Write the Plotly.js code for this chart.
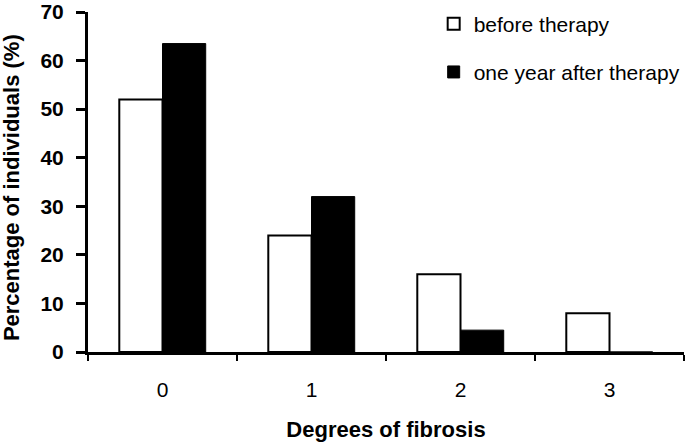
<!DOCTYPE html>
<html>
<head>
<meta charset="utf-8">
<script src="https://cdn.plot.ly/plotly-3.0.1.min.js"></script>
<style>
  body { margin: 0; background: #fff; }
  #plotDiv { width: 700px; height: 443px; }
</style>
</head>
<body>
<div id="plotDiv"></div>
<script>
var degrees = ['0', '1', '2', '3'];
var beforeTherapy = [52, 24, 16, 8];
var afterTherapy = [63.5, 32, 4.5, 0];

var before = {
  type: 'bar',
  name: 'before therapy',
  x: degrees,
  y: beforeTherapy,
  legendgroup: 'a',
  marker: { color: '#ffffff', line: { color: '#000000', width: 2 } }
};

var after = {
  type: 'bar',
  name: 'one year after therapy',
  x: degrees,
  y: afterTherapy,
  legendgroup: 'b',
  marker: { color: '#000000', line: { color: '#000000', width: 1 } }
};

var layout = {
  width: 700,
  height: 443,
  margin: { l: 88, r: 16, t: 12, b: 91, pad: 0, autoexpand: false },
  paper_bgcolor: '#ffffff',
  plot_bgcolor: '#ffffff',
  font: { family: 'Liberation Sans, Arial, sans-serif', color: '#000000', size: 21 },
  barmode: 'group',
  bargap: 0.42,
  bargroupgap: 0,
  showlegend: true,
  legend: {
    x: 0.58, y: 1.025, xanchor: 'left', yanchor: 'top',
    font: { size: 21 },
    tracegroupgap: 18,
    bgcolor: 'rgba(0,0,0,0)',
    itemwidth: 30
  },
  xaxis: {
    type: 'category',
    showline: true, linecolor: '#000000', linewidth: 3,
    ticks: 'outside', tickson: 'boundaries', ticklen: 6, tickwidth: 2, tickcolor: '#000000',
    ticklabelstandoff: 17,
    tickfont: { size: 21 },
    showgrid: false, zeroline: false,
    title: { text: '<b>Degrees of fibrosis</b>', font: { size: 22 }, standoff: 22 }
  },
  yaxis: {
    range: [0, 70], dtick: 10,
    showline: true, linecolor: '#000000', linewidth: 3,
    ticks: 'outside', ticklen: 9, tickwidth: 3, tickcolor: '#000000',
    ticklabelstandoff: 8,
    tickfont: { size: 21, family: 'Liberation Sans, Arial, sans-serif', weight: 'bold' },
    showgrid: false, zeroline: false
  },
  annotations: [{
    text: '<b>Percentage of individuals (%)</b>',
    xref: 'paper', yref: 'paper',
    x: 0, y: 0.482, xshift: -77,
    xanchor: 'center', yanchor: 'middle',
    textangle: -90, showarrow: false,
    font: { size: 22 }
  }]
};

Plotly.newPlot('plotDiv', [before, after], layout, { displayModeBar: false });
</script>
</body>
</html>
